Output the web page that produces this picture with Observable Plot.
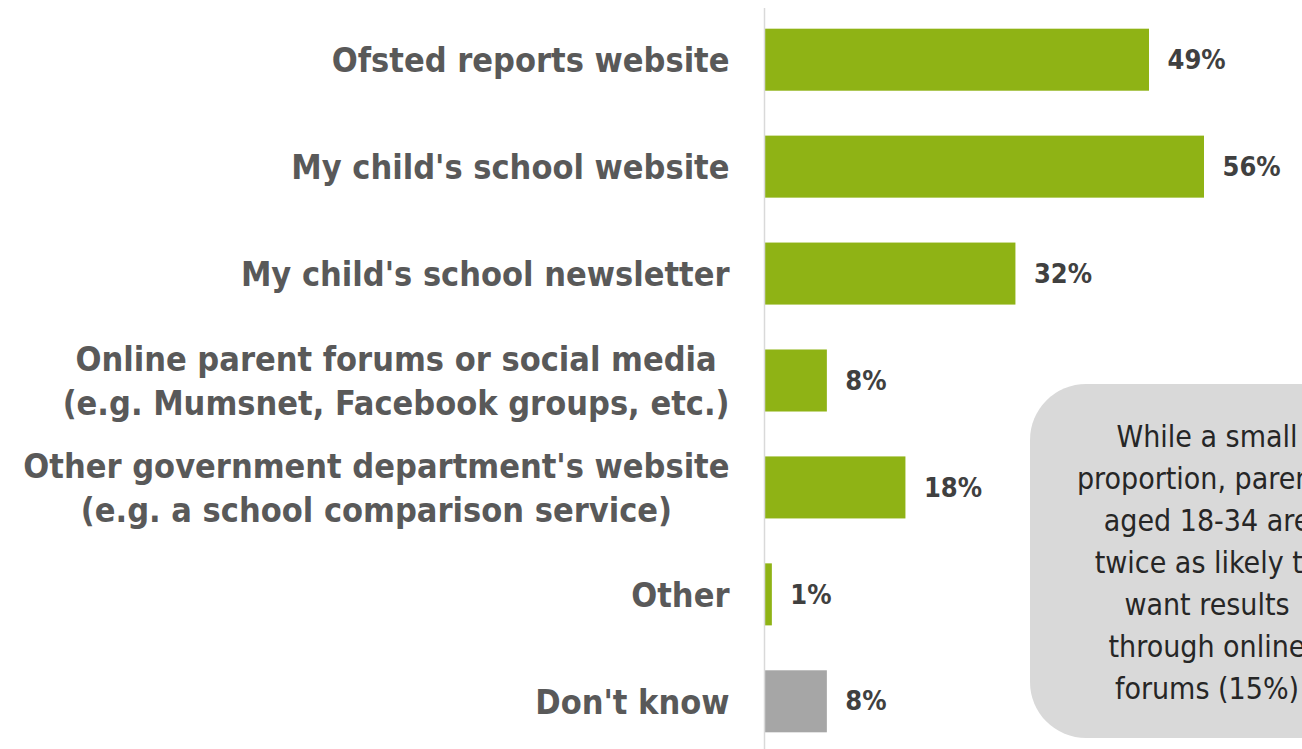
<!DOCTYPE html>
<html>
<head>
<meta charset="utf-8">
<script src="https://cdn.jsdelivr.net/npm/d3@7"></script>
<script src="https://cdn.jsdelivr.net/npm/@observablehq/plot@0.6"></script>
<style>
  html, body { margin: 0; padding: 0; background: #fff; overflow: hidden; }
  #wrap { position: relative; width: 1302px; height: 749px; overflow: hidden; }
  #callout {
    position: absolute; left: 1030px; top: 384px; width: 354px; height: 354px;
    background: #d9d9d9; border-radius: 56px; box-sizing: border-box;
    padding-top: 32px; text-align: center; color: #262626; white-space: nowrap;
    font-family: "DejaVu Sans Condensed", "DejaVu Sans", sans-serif; font-size: 30px; line-height: 42px;
  }
</style>
</head>
<body>
<div id="wrap"><div id="chart"></div><div id="callout"></div></div>
<script>
const categories = [
  "Ofsted reports website",
  "My child's school website",
  "My child's school newsletter",
  "Online parent forums or social media\n(e.g. Mumsnet, Facebook groups, etc.)",
  "Other government department's website\n(e.g. a school comparison service)",
  "Other",
  "Don't know"
];
const values = [49, 56, 32, 8, 18, 1, 8];
const barColors = ["#8fb315", "#8fb315", "#8fb315", "#8fb315", "#8fb315", "#8fb315", "#a6a6a6"];
const calloutLines = ["While a small", "proportion, parents", "aged 18-34 are", "twice as likely to", "want results", "through online", "forums (15%)"];

const data = categories.map((c, i) => ({label: c, value: values[i], color: barColors[i]}));
const font = "'DejaVu Sans Condensed', 'DejaVu Sans', sans-serif";

const chart = Plot.plot({
  width: 1302,
  height: 749,
  marginLeft: 764,
  marginRight: 98,
  marginTop: 18,
  marginBottom: 6,
  style: {fontFamily: font, background: "#fff"},
  x: {domain: [0, 56], axis: null},
  y: {domain: categories, axis: null, paddingInner: 0.42, paddingOuter: 0.1, round: false},
  color: {type: "identity"},
  marks: [
    Plot.barX(data, {y: "label", x: "value", fill: "color"}),
    Plot.ruleX([0], {stroke: "#d9d9d9", strokeWidth: 1.5, insetTop: -10, insetBottom: -6}),
    Plot.text(data, {y: "label", x: 0, text: "label", textAnchor: "end", dx: -35, dy: -2,
      fontSize: 34, fontWeight: "bold", fill: "#595959", lineHeight: 1.29, fontFamily: font}),
    Plot.text(data, {y: "label", x: "value", text: d => d.value + "%", textAnchor: "start", dx: 18, dy: 0,
      fontSize: 27, fontWeight: "bold", fill: "#404040", fontFamily: font})
  ]
});
document.getElementById("chart").appendChild(chart);

// center multi-line labels within their right-aligned block
chart.querySelectorAll("text").forEach(t => {
  const spans = t.querySelectorAll("tspan");
  if (spans.length > 1) {
    let w = 0;
    spans.forEach(s => { w = Math.max(w, s.getComputedTextLength()); });
    spans.forEach(s => { s.setAttribute("x", -w / 2); s.setAttribute("text-anchor", "middle"); });
  }
});

document.getElementById("callout").innerHTML = calloutLines.join("<br>");
</script>
</body>
</html>
